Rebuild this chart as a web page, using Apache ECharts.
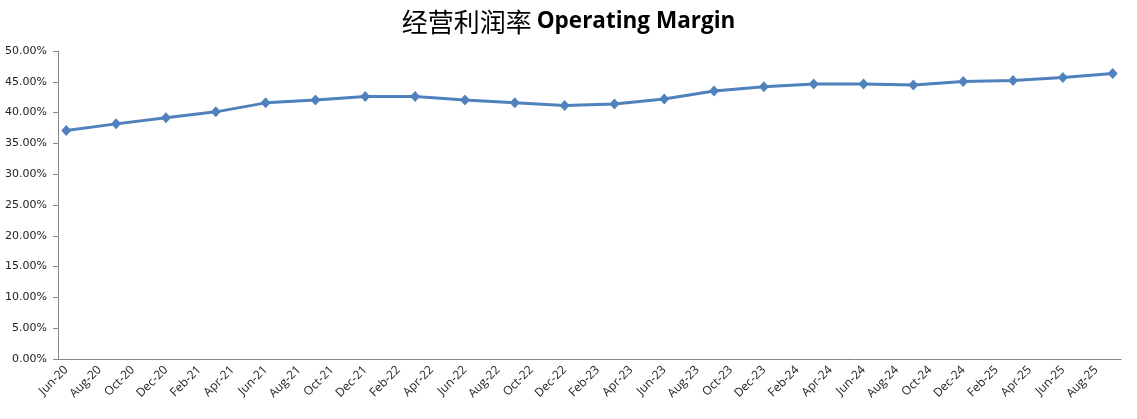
<!DOCTYPE html>
<html>
<head>
<meta charset="utf-8">
<script src="https://cdn.jsdelivr.net/npm/echarts@6/dist/echarts.min.js"></script>
<style>
html,body{margin:0;padding:0;background:#fff;}
#chart{width:1137px;height:419px;}
</style>
</head>
<body>
<div id="chart"></div>
<script>
// Monthly category slots (axis tick labels shown every 2 months)
const months = [
  "Jun-20","Jul-20","Aug-20","Sep-20","Oct-20","Nov-20","Dec-20",
  "Jan-21","Feb-21","Mar-21","Apr-21","May-21","Jun-21","Jul-21","Aug-21","Sep-21","Oct-21","Nov-21","Dec-21",
  "Jan-22","Feb-22","Mar-22","Apr-22","May-22","Jun-22","Jul-22","Aug-22","Sep-22","Oct-22","Nov-22","Dec-22",
  "Jan-23","Feb-23","Mar-23","Apr-23","May-23","Jun-23","Jul-23","Aug-23","Sep-23","Oct-23","Nov-23","Dec-23",
  "Jan-24","Feb-24","Mar-24","Apr-24","May-24","Jun-24","Jul-24","Aug-24","Sep-24","Oct-24","Nov-24","Dec-24",
  "Jan-25","Feb-25","Mar-25","Apr-25","May-25","Jun-25","Jul-25","Aug-25","Sep-25"
];
// Quarterly observation periods
const periods = [
  "Jun-20","Sep-20","Dec-20","Mar-21","Jun-21","Sep-21","Dec-21","Mar-22",
  "Jun-22","Sep-22","Dec-22","Mar-23","Jun-23","Sep-23","Dec-23","Mar-24",
  "Jun-24","Sep-24","Dec-24","Mar-25","Jun-25","Sep-25"
];
// Operating margin (%)
const margin = [
  37.10, 38.17, 39.15, 40.12, 41.58, 42.06, 42.61, 42.61,
  42.06, 41.58, 41.15, 41.41, 42.22, 43.52, 44.20, 44.65,
  44.65, 44.49, 45.04, 45.20, 45.69, 46.34
];
const yTicks = { min: 0, max: 50, interval: 5 };

const chart = echarts.init(document.getElementById('chart'), null, {renderer: 'canvas'});
const axisColor = '#868686';
chart.setOption({
  animation: false,
  backgroundColor: '#fff',
  title: {
    left: 'center',
    top: 4,
    text: '{cn|经营利润率} {en|Operating Margin}',
    textStyle: {
      rich: {
        cn: { fontFamily: 'Noto Sans CJK SC', fontSize: 26, color: '#000', fontWeight: 'normal' },
        en: { fontFamily: 'Open Sans', fontSize: 22.5, color: '#000', fontWeight: 'bold' }
      }
    }
  },
  grid: { left: 58, right: 16, top: 51, bottom: 60, containLabel: false },
  xAxis: {
    type: 'category',
    data: months,
    boundaryGap: true,
    axisLine: { lineStyle: { color: axisColor, width: 1 } },
    axisTick: { interval: 1, length: 4, lineStyle: { color: axisColor } },
    axisLabel: {
      interval: 1,
      rotate: 45,
      margin: 9,
      fontFamily: 'Open Sans',
      fontSize: 12,
      color: '#222'
    },
    splitLine: { show: false }
  },
  yAxis: {
    type: 'value',
    min: yTicks.min,
    max: yTicks.max,
    interval: yTicks.interval,
    axisLine: { show: true, lineStyle: { color: axisColor, width: 1 } },
    axisTick: { show: true, length: 5, lineStyle: { color: axisColor } },
    axisLabel: {
      margin: 11,
      fontFamily: 'DejaVu Sans',
      fontSize: 11,
      color: '#222',
      formatter: v => v.toFixed(2) + '%'
    },
    splitLine: { show: false }
  },
  series: [{
    type: 'line',
    data: periods.map((p, i) => [p, margin[i]]),
    symbol: 'diamond',
    symbolSize: [10, 11],
    lineStyle: { color: '#4F81BD', width: 3 },
    itemStyle: { color: '#4F81BD' },
    smooth: false
  }]
});
</script>
</body>
</html>
